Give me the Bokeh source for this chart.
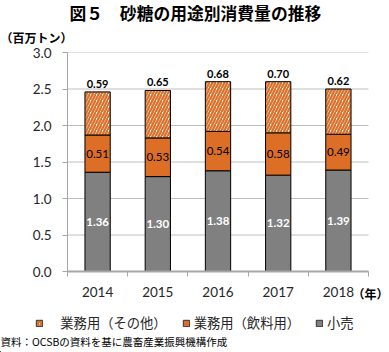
from bokeh.plotting import figure
from bokeh.layouts import column
from bokeh.models import (FixedTicker, Legend, LegendItem, ColumnDataSource, Range1d,
                          NumeralTickFormatter, Label)
from bokeh.embed import file_html
from bokeh.resources import INLINE
from bokeh.core.properties import value

years = ["2014", "2015", "2016", "2017", "2018"]
retail = [1.36, 1.30, 1.38, 1.32, 1.39]        # 小売
beverage = [0.51, 0.53, 0.54, 0.58, 0.49]      # 業務用（飲料用）
other = [0.59, 0.65, 0.68, 0.70, 0.62]         # 業務用（その他）
y_ticks = [0.0, 0.5, 1.0, 1.5, 2.0, 2.5, 3.0]
series_names = ["業務用（その他）", "業務用（飲料用）", "小売"]
title_text = "図５　砂糖の用途別消費量の推移"
unit_text = "（百万トン）"
year_unit = "（年）"
source_text = "資料：OCSBの資料を基に農畜産業振興機構作成"

JP = "Noto Sans CJK JP"
NUM = "Lato"
C_RET, C_BEV, C_OTH_BG, C_OTH_HATCH = "#808080", "#DC6E25", "#FFF4E8", "#D9722E"

n = len(years)
xs = list(range(n))
b1 = [r + b for r, b in zip(retail, beverage)]
top = [a + o for a, o in zip(b1, other)]

src = ColumnDataSource(dict(
    x=xs, retail=retail, beverage=beverage, other=other, b1=b1, top=top,
    retail_lbl=[f"{v:.2f}" for v in retail],
    bev_lbl=[f"{v:.2f}" for v in beverage],
    oth_lbl=[f"{v:.2f}" for v in other],
    retail_mid=[r / 2 for r in retail],
    bev_mid=[r + b / 2 for r, b in zip(retail, beverage)],
))

def strip(height):
    f = figure(width=389, height=height, output_backend="svg", toolbar_location=None,
               x_range=Range1d(0, 389), y_range=Range1d(0, height),
               x_axis_type=None, y_axis_type=None, frame_align=False,
               min_border_left=0, min_border_right=0, min_border_top=0, min_border_bottom=0)
    f.outline_line_color = None
    f.background_fill_color = "white"
    f.border_fill_color = "white"
    return f

# ---------------- top strip: title + unit ----------------
H0 = 46
t = strip(H0)
t.add_layout(Label(x=69, y=H0 - 12, text=title_text, text_font=JP, text_font_size="16.8px",
                   text_font_style="bold", text_baseline="middle", text_align="left",
                   text_color="black"))
t.add_layout(Label(x=0, y=H0 - 37, text=unit_text, text_font=JP, text_font_size="12px",
                   text_font_style="bold", text_baseline="middle", text_align="left",
                   text_color="black"))

# ---------------- main chart ----------------
H1 = 305 - H0
FRAME_R = 370                      # frame right edge (year unit is centred on it)
cat_w = (368 - 67) / n
x_hi = n - 0.5 + (FRAME_R - 368) / cat_w

p = figure(width=389, height=H1, output_backend="svg", toolbar_location=None,
           x_range=Range1d(-0.5, x_hi), y_range=Range1d(0, 3.0), frame_align=False,
           min_border_left=67, min_border_right=389 - FRAME_R, min_border_top=52 - H0,
           min_border_bottom=305 - 271)
p.outline_line_color = None
p.background_fill_color = "white"
p.border_fill_color = "white"

# horizontal gridlines limited to the category area
p.segment(x0=-0.5, x1=n - 0.5, y0=y_ticks[1:], y1=y_ticks[1:], line_color="#BFBFBF", line_width=1)

W = 0.42
r_ret = p.vbar(x="x", bottom=0, top="retail", width=W, source=src,
               fill_color=C_RET, line_color="black", line_width=1)
r_bev = p.vbar(x="x", bottom="retail", top="b1", width=W, source=src,
               fill_color=C_BEV, line_color="black", line_width=1)
r_oth = p.vbar(x="x", bottom="b1", top="top", width=W, source=src,
               fill_color=C_OTH_BG, line_color="black", line_width=1,
               hatch_pattern="/", hatch_color=C_OTH_HATCH, hatch_scale=6, hatch_weight=2.3)

p.text(x="x", y="retail_mid", text="retail_lbl", source=src, text_color="white",
       text_font=value(NUM), text_font_size="11.5px", text_font_style="bold",
       text_align="center", text_baseline="middle")
p.text(x="x", y="bev_mid", text="bev_lbl", source=src, text_color="black",
       text_font=value(NUM), text_font_size="11.5px",
       text_align="center", text_baseline="middle")
p.text(x="x", y="top", text="oth_lbl", source=src, text_color="black",
       text_font=value(NUM), text_font_size="11px", text_font_style="bold",
       text_align="center", text_baseline="bottom", y_offset=-4)

# y axis
p.yaxis.ticker = FixedTicker(ticks=y_ticks)
p.yaxis.formatter = NumeralTickFormatter(format="0.0")
p.yaxis.axis_line_color = "#A6A6A6"
p.yaxis.major_tick_line_color = "#A6A6A6"
p.yaxis.major_tick_out = 5
p.yaxis.major_tick_in = 0
p.yaxis.minor_tick_line_color = None
p.yaxis.major_label_standoff = 11
p.yaxis.major_label_text_font = NUM
p.yaxis.major_label_text_font_size = "13.5px"
p.yaxis.major_label_text_color = "#262626"

# x axis
p.xaxis.ticker = FixedTicker(ticks=xs, minor_ticks=[i - 0.5 for i in range(n + 1)])
p.xaxis.major_label_overrides = {i: y for i, y in enumerate(years)}
p.xaxis.bounds = (-0.5, n - 0.5)
p.xaxis.major_tick_line_color = None
p.xaxis.minor_tick_line_color = "#A6A6A6"
p.xaxis.minor_tick_out = 5
p.xaxis.minor_tick_in = 0
p.xaxis.axis_line_color = "#A6A6A6"
p.xaxis.axis_line_width = 2
p.xaxis.major_label_standoff = 9
p.xaxis.major_label_text_font = NUM
p.xaxis.major_label_text_font_size = "13.5px"
p.xaxis.major_label_text_color = "#262626"
p.xaxis.axis_label = year_unit
p.xaxis.axis_label_align = "end"
p.xaxis.axis_label_standoff = -15
p.xaxis.axis_label_text_font = JP
p.xaxis.axis_label_text_font_size = "12px"
p.xaxis.axis_label_text_font_style = "bold"
p.xaxis.axis_label_text_color = "black"

p.xgrid.visible = False
p.ygrid.visible = False

# ---------------- bottom strip: legend + source ----------------
H2 = 352 - 305
q = strip(H2)
proxy = dict(x=[-50], top=[1])   # legend proxies, outside the visible strip
l_oth = q.vbar(x="x", top="top", width=1, source=ColumnDataSource(proxy),
               fill_color=C_OTH_BG, line_color="#333333", line_width=1,
               hatch_pattern="/", hatch_color=C_OTH_HATCH, hatch_scale=4, hatch_weight=1.8)
l_bev = q.vbar(x="x", top="top", width=1, source=ColumnDataSource(proxy),
               fill_color=C_BEV, line_color="#333333", line_width=1)
l_ret = q.vbar(x="x", top="top", width=1, source=ColumnDataSource(proxy),
               fill_color=C_RET, line_color="#333333", line_width=1)

legend = Legend(items=[
    LegendItem(label="\u3000" + series_names[0], renderers=[l_oth]),
    LegendItem(label=series_names[1], renderers=[l_bev]),
    LegendItem(label=series_names[2], renderers=[l_ret]),
], orientation="horizontal", location=(35, 20),
   glyph_width=8, glyph_height=8, label_text_font=JP, label_text_font_size="13.3px",
   label_standoff=4, spacing=15, padding=0, margin=0,
   border_line_color=None, background_fill_alpha=0, label_text_color="#262626")
q.add_layout(legend, "center")

q.add_layout(Label(x=0, y=11, text=source_text,
                   text_font=JP, text_font_size="10.5px", text_baseline="middle",
                   text_align="left", text_color="black"))

layout = column(t, p, q, spacing=0)
open("out.html", "w").write(file_html(layout, INLINE))
